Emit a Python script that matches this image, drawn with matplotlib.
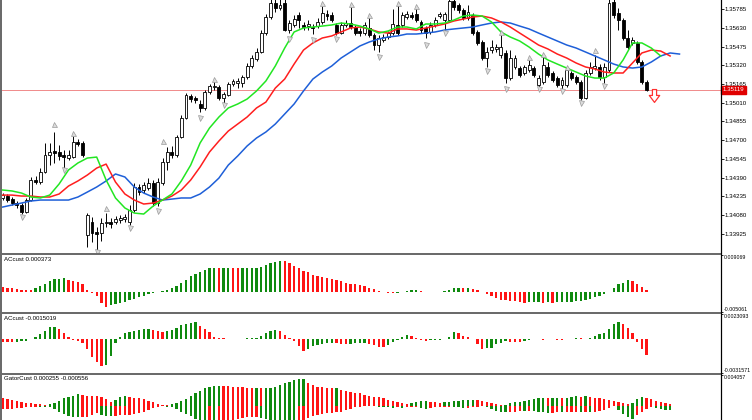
import numpy as np
import matplotlib.pyplot as plt
from matplotlib.patches import Rectangle
from matplotlib.lines import Line2D
from matplotlib.path import Path
from matplotlib.transforms import blended_transform_factory

plt.rcParams['font.family'] = ['Liberation Sans', 'DejaVu Sans']

# --- price bars (138 bars) ---
opens = [1.34221, 1.34237, 1.34212, 1.34179, 1.34163, 1.34105, 1.34204, 1.34370, 1.34353, 1.34436,
         1.34577, 1.34610, 1.34602, 1.34577, 1.34552, 1.34560, 1.34685, 1.34677, 1.33914, 1.34022,
         1.33939, 1.33930, 1.34013, 1.34022, 1.34022, 1.34038, 1.34046, 1.34022, 1.34121, 1.34312,
         1.34287, 1.34303, 1.34345, 1.34179, 1.34345, 1.34519, 1.34602, 1.34577, 1.34726, 1.34884,
         1.35066, 1.35050, 1.35000, 1.34967, 1.35099, 1.35141, 1.35141, 1.35050, 1.35074, 1.35166,
         1.35174, 1.35174, 1.35224, 1.35315, 1.35373, 1.35431, 1.35588, 1.35721, 1.35837, 1.35796,
         1.35837, 1.35613, 1.35655, 1.35738, 1.35655, 1.35646, 1.35638, 1.35646, 1.35680, 1.35746,
         1.35738, 1.35655, 1.35588, 1.35655, 1.35671, 1.35638, 1.35605, 1.35588, 1.35630, 1.35572,
         1.35489, 1.35530, 1.35555, 1.35588, 1.35655, 1.35655, 1.35721, 1.35738, 1.35746, 1.35680,
         1.35630, 1.35597, 1.35655, 1.35729, 1.35696, 1.35696, 1.35854, 1.35821, 1.35779, 1.35713,
         1.35738, 1.35597, 1.35514, 1.35381, 1.35447, 1.35456, 1.35406, 1.35423, 1.35215, 1.35307,
         1.35298, 1.35257, 1.35282, 1.35298, 1.35157, 1.35182, 1.35307, 1.35257, 1.35215, 1.35157,
         1.35157, 1.35257, 1.35224, 1.35182, 1.35050, 1.35257, 1.35298, 1.35307, 1.35224, 1.35282,
         1.35845, 1.35754, 1.35696, 1.35547, 1.35506, 1.35506, 1.35348, 1.35182]
highs = [1.34262, 1.34254, 1.34229, 1.34196, 1.34179, 1.34221, 1.34395, 1.34403, 1.34469, 1.34677,
         1.34677, 1.34768, 1.34660, 1.34618, 1.34618, 1.34735, 1.34710, 1.34693, 1.34096, 1.34063,
         1.33980, 1.34055, 1.34096, 1.34055, 1.34071, 1.34080, 1.34088, 1.34163, 1.34345, 1.34337,
         1.34353, 1.34386, 1.34370, 1.34386, 1.34552, 1.34643, 1.34652, 1.34743, 1.34909, 1.35091,
         1.35083, 1.35066, 1.35033, 1.35116, 1.35166, 1.35199, 1.35157, 1.35099, 1.35182, 1.35207,
         1.35215, 1.35240, 1.35340, 1.35406, 1.35464, 1.35613, 1.35746, 1.35870, 1.35870, 1.35870,
         1.35870, 1.35696, 1.35738, 1.35763, 1.35680, 1.35696, 1.35663, 1.35713, 1.35812, 1.35779,
         1.35763, 1.35671, 1.35680, 1.35696, 1.35804, 1.35655, 1.35630, 1.35680, 1.35721, 1.35588,
         1.35572, 1.35580, 1.35605, 1.35787, 1.35821, 1.35763, 1.35771, 1.35763, 1.35796, 1.35696,
         1.35646, 1.35680, 1.35721, 1.35763, 1.35763, 1.35870, 1.35870, 1.35837, 1.35796, 1.35821,
         1.35754, 1.35613, 1.35530, 1.35472, 1.35530, 1.35497, 1.35572, 1.35447, 1.35447, 1.35406,
         1.35315, 1.35323, 1.35365, 1.35315, 1.35240, 1.35389, 1.35348, 1.35273, 1.35232, 1.35224,
         1.35298, 1.35273, 1.35240, 1.35199, 1.35282, 1.35348, 1.35406, 1.35331, 1.35340, 1.35870,
         1.35870, 1.35796, 1.35713, 1.35613, 1.35555, 1.35522, 1.35365, 1.35199]
lows = [1.34204, 1.34187, 1.34163, 1.34138, 1.34088, 1.34096, 1.34196, 1.34337, 1.34337, 1.34428,
        1.34494, 1.34511, 1.34536, 1.34469, 1.34536, 1.34552, 1.34652, 1.34560, 1.33814, 1.33856,
        1.33789, 1.33864, 1.33980, 1.33972, 1.34005, 1.34013, 1.34022, 1.33997, 1.34105, 1.34245,
        1.34262, 1.34287, 1.34154, 1.34154, 1.34328, 1.34453, 1.34552, 1.34560, 1.34718, 1.34875,
        1.35016, 1.35008, 1.34934, 1.34950, 1.35083, 1.35116, 1.35033, 1.35008, 1.35066, 1.35149,
        1.35132, 1.35141, 1.35207, 1.35298, 1.35356, 1.35423, 1.35572, 1.35704, 1.35763, 1.35779,
        1.35605, 1.35588, 1.35638, 1.35630, 1.35613, 1.35613, 1.35580, 1.35630, 1.35663, 1.35696,
        1.35680, 1.35572, 1.35580, 1.35638, 1.35622, 1.35572, 1.35564, 1.35572, 1.35555, 1.35447,
        1.35431, 1.35514, 1.35539, 1.35572, 1.35572, 1.35638, 1.35704, 1.35704, 1.35680, 1.35588,
        1.35547, 1.35580, 1.35638, 1.35713, 1.35613, 1.35680, 1.35779, 1.35754, 1.35696, 1.35696,
        1.35572, 1.35489, 1.35365, 1.35307, 1.35423, 1.35431, 1.35381, 1.35174, 1.35199, 1.35290,
        1.35224, 1.35240, 1.35265, 1.35224, 1.35141, 1.35166, 1.35224, 1.35182, 1.35141, 1.35124,
        1.35141, 1.35199, 1.35166, 1.35033, 1.35041, 1.35240, 1.35282, 1.35199, 1.35174, 1.35265,
        1.35713, 1.35613, 1.35530, 1.35456, 1.35489, 1.35331, 1.35166, 1.35105]
closes = [1.34245, 1.34204, 1.34179, 1.34163, 1.34105, 1.34204, 1.34370, 1.34353, 1.34436, 1.34577,
          1.34602, 1.34594, 1.34569, 1.34560, 1.34577, 1.34685, 1.34668, 1.34577, 1.34080, 1.33930,
          1.33922, 1.34013, 1.34022, 1.34005, 1.34046, 1.34055, 1.34063, 1.34121, 1.34312, 1.34270,
          1.34328, 1.34345, 1.34179, 1.34353, 1.34519, 1.34602, 1.34577, 1.34726, 1.34884, 1.35074,
          1.35041, 1.35033, 1.34967, 1.35099, 1.35149, 1.35149, 1.35050, 1.35083, 1.35166, 1.35191,
          1.35191, 1.35224, 1.35315, 1.35381, 1.35431, 1.35588, 1.35721, 1.35837, 1.35796, 1.35821,
          1.35613, 1.35671, 1.35704, 1.35696, 1.35638, 1.35663, 1.35630, 1.35680, 1.35754, 1.35729,
          1.35696, 1.35588, 1.35655, 1.35671, 1.35638, 1.35588, 1.35588, 1.35655, 1.35572, 1.35489,
          1.35547, 1.35555, 1.35588, 1.35663, 1.35588, 1.35738, 1.35746, 1.35721, 1.35696, 1.35613,
          1.35588, 1.35655, 1.35696, 1.35746, 1.35746, 1.35854, 1.35804, 1.35779, 1.35713, 1.35763,
          1.35588, 1.35506, 1.35381, 1.35431, 1.35472, 1.35472, 1.35472, 1.35215, 1.35381, 1.35381,
          1.35240, 1.35307, 1.35323, 1.35240, 1.35215, 1.35323, 1.35240, 1.35199, 1.35157, 1.35199,
          1.35282, 1.35215, 1.35182, 1.35050, 1.35257, 1.35307, 1.35315, 1.35224, 1.35307, 1.35837,
          1.35738, 1.35696, 1.35547, 1.35472, 1.35530, 1.35348, 1.35182, 1.35119]
bid = 1.35119

# --- alligator lines, read every second bar ---
jaw = [1.34146, 1.34163, 1.34179, 1.34196, 1.34204, 1.34204, 1.34204, 1.34204, 1.34229, 1.34270,
       1.34312, 1.34362, 1.34420, 1.34395, 1.34312, 1.34262, 1.34229, 1.34204, 1.34212, 1.34221,
       1.34221, 1.34254, 1.34312, 1.34386, 1.34494, 1.34569, 1.34652, 1.34718, 1.34768, 1.34834,
       1.34917, 1.35000, 1.35108, 1.35207, 1.35265, 1.35315, 1.35381, 1.35431, 1.35481, 1.35514,
       1.35539, 1.35555, 1.35564, 1.35580, 1.35580, 1.35588, 1.35597, 1.35613, 1.35622, 1.35630,
       1.35638, 1.35655, 1.35671, 1.35680, 1.35671, 1.35646, 1.35622, 1.35588, 1.35555, 1.35522,
       1.35489, 1.35464, 1.35431, 1.35398, 1.35365, 1.35331, 1.35307, 1.35298, 1.35307, 1.35348,
       1.35398, 1.35423, 1.35414]
teeth = [1.34245, 1.34245, 1.34237, 1.34237, 1.34229, 1.34229, 1.34254, 1.34320, 1.34362, 1.34411,
         1.34469, 1.34502, 1.34353, 1.34254, 1.34204, 1.34171, 1.34179, 1.34204, 1.34237, 1.34287,
         1.34370, 1.34478, 1.34602, 1.34693, 1.34776, 1.34834, 1.34892, 1.34967, 1.35016, 1.35132,
         1.35207, 1.35331, 1.35447, 1.35506, 1.35547, 1.35564, 1.35597, 1.35630, 1.35638, 1.35622,
         1.35597, 1.35588, 1.35622, 1.35622, 1.35613, 1.35630, 1.35646, 1.35663, 1.35688, 1.35704,
         1.35721, 1.35729, 1.35713, 1.35680, 1.35638, 1.35588, 1.35539, 1.35489, 1.35456, 1.35414,
         1.35381, 1.35340, 1.35307, 1.35290, 1.35265, 1.35257, 1.35257, 1.35340, 1.35423, 1.35447,
         1.35439, 1.35398]
lips = [1.34287, 1.34279, 1.34262, 1.34229, 1.34221, 1.34245, 1.34337, 1.34453, 1.34511, 1.34552,
        1.34560, 1.34370, 1.34221, 1.34138, 1.34096, 1.34088, 1.34154, 1.34204, 1.34254, 1.34362,
        1.34494, 1.34677, 1.34801, 1.34892, 1.34967, 1.35000, 1.35041, 1.35108, 1.35191, 1.35315,
        1.35464, 1.35597, 1.35630, 1.35638, 1.35646, 1.35655, 1.35671, 1.35663, 1.35646, 1.35622,
        1.35588, 1.35605, 1.35638, 1.35638, 1.35622, 1.35663, 1.35663, 1.35671, 1.35696, 1.35729,
        1.35738, 1.35729, 1.35680, 1.35597, 1.35555, 1.35522, 1.35472, 1.35414, 1.35365, 1.35331,
        1.35298, 1.35265, 1.35232, 1.35215, 1.35215, 1.35257, 1.35365, 1.35506, 1.35506, 1.35464,
        1.35398]
jaw_idx = np.arange(0, 145, 2)
teeth_idx = np.arange(0, 143, 2)
lips_idx = np.arange(0, 141, 2)

# --- fractals and signal arrow ---
fr_up_idx = [11, 15, 22, 34, 45, 68, 74, 78, 84, 88, 106, 112, 115, 120, 126]
fr_up_px = [1.34834, 1.34759, 1.34138, 1.34693, 1.35207, 1.35837, 1.35829, 1.35738, 1.35837, 1.35812,
            1.35597, 1.35389, 1.35414, 1.35307, 1.35448]
fr_dn_idx = [4, 13, 20, 27, 33, 42, 47, 61, 66, 71, 80, 90, 94, 103, 107, 114, 119, 123, 128]
fr_dn_px = [1.34063, 1.34453, 1.33773, 1.33972, 1.34113, 1.34884, 1.34992, 1.35539, 1.35530, 1.35539,
            1.35389, 1.35489, 1.35588, 1.35273, 1.35124, 1.35124, 1.35108, 1.35008, 1.35149]
signal_idx, signal_px = 138.5, 1.35066

# --- oscillators (units of 1e-4) ---
ao_e4 = [10.4, 9.6, 8.0, 6.4, 4.8, 4.0, 3.2, 9.6, 13.6, 20.0,
         25.6, 30.4, 32.0, 32.8, 29.6, 27.2, 24.0, 20.0, 3.2, -2.4,
         -12.0, -28.0, -37.6, -33.6, -30.4, -27.2, -24.8, -21.6, -17.6, -14.4,
         -10.4, -6.4, -3.2, -0.8, 1.6, 4.8, 8.8, 14.4, 21.6, 29.6,
         37.6, 44.0, 49.6, 54.4, 57.6, 58.4, 57.6, 58.8, 59.2, 58.4,
         57.6, 58.4, 58.6, 58.9, 59.2, 61.6, 65.6, 70.4, 73.6, 76.8,
         76.0, 70.4, 64.0, 58.4, 52.0, 48.0, 41.6, 38.4, 35.2, 33.6,
         30.4, 28.0, 25.6, 22.4, 20.0, 17.6, 15.2, 13.6, 9.6, 5.6,
         1.6, -1.6, -4.0, -4.4, -2.4, -1.6, 2.4, 3.2, 3.6, 1.6,
         -0.8, -1.6, -1.8, -2.1, 0.8, 4.0, 8.0, 9.6, 9.2, 9.6,
         6.4, 4.0, -1.6, -6.4, -12.0, -16.0, -20.0, -21.6, -22.4, -24.0,
         -25.6, -27.2, -26.4, -25.6, -25.2, -27.2, -26.4, -27.2, -26.4, -26.0,
         -25.6, -24.8, -24.0, -22.4, -20.0, -17.6, -14.4, -10.4, -5.6, -1.6,
         8.0, 17.6, 22.4, 29.6, 26.4, 20.0, 10.4, 3.73]
ac_e4 = [-3.0, -3.15, -3.3, -2.7, -2.1, -1.5, -0.3, 1.5, 4.2, 7.8,
         10.8, 11.1, 9.3, 5.4, 1.8, -0.6, -2.1, -3.6, -9.6, -17.1,
         -21.6, -25.2, -24.6, -15.6, -3.6, 1.8, 5.4, 6.0, 6.9, 8.4,
         9.0, 9.3, 8.4, 6.9, 6.6, 6.9, 8.4, 9.9, 12.9, 13.8,
         15.0, 15.9, 12.0, 9.0, 6.0, 1.8, 0.9, 0.45, 0.15, 0.24,
         0.3, 0.36, 0.45, 0.6, 0.9, 2.4, 5.4, 7.5, 8.4, 7.5,
         3.9, 0.9, -2.1, -6.6, -11.1, -9.6, -6.6, -5.7, -5.1, -4.2,
         -3.6, -4.2, -4.5, -5.1, -4.5, -4.2, -3.6, -3.45, -4.5, -6.0,
         -7.2, -7.5, -6.0, -3.0, -1.2, 1.8, 3.9, 3.0, 0.9, -1.2,
         -2.1, -1.2, -1.05, -0.6, 0.15, 1.8, 6.0, 5.4, 3.0, 1.5,
         0.0, -5.1, -9.0, -8.7, -8.1, -5.1, -4.2, -2.1, -2.4, -2.7,
         -2.85, -1.8, -0.6, -0.3, -0.45, -0.6, -0.3, -0.45, -0.6, -0.75,
         -0.3, 0.3, 0.6, 0.45, 0.3, 1.2, 2.4, 4.2, 5.4, 9.0,
         13.5, 15.6, 13.5, 10.5, 5.4, -3.0, -9.6, -15.019]
gator_up_e4 = [10.0, 9.2, 7.8, 7.0, 5.7, 4.4, 3.5, 2.6, 2.2, 1.7,
               2.6, 4.4, 7.0, 10.0, 12.2, 13.5, 15.3, 14.0, 13.5, 13.1,
               12.6, 11.8, 9.6, 5.7, 7.8, 11.3, 13.1, 12.2, 10.9, 10.0,
               8.7, 7.0, 5.2, 3.1, 1.7, 1.3, 2.2, 3.9, 6.5, 9.6,
               13.1, 16.6, 20.1, 23.1, 25.3, 26.2, 26.6, 26.2, 25.7, 25.3,
               24.9, 24.4, 24.0, 23.8, 24.0, 23.1, 23.3, 24.0, 25.3, 27.0,
               29.6, 31.8, 34.0, 34.9, 35.1, 29.6, 27.5, 25.3, 24.9, 24.0,
               23.1, 23.5, 20.9, 20.1, 18.7, 17.4, 16.6, 14.4, 13.5, 12.2,
               11.3, 10.0, 7.8, 7.0, 5.7, 3.5, 2.6, 3.5, 5.7, 6.5,
               6.8, 5.7, 4.8, 4.4, 4.8, 5.7, 6.5, 7.0, 7.4, 7.8,
               8.3, 7.8, 7.0, 5.7, 4.4, 2.2, 0.9, 1.7, 3.5, 4.8,
               5.7, 7.0, 8.3, 9.2, 10.0, 10.5, 10.0, 10.5, 10.9, 10.7,
               10.9, 11.8, 12.6, 12.2, 12.6, 11.8, 10.9, 10.5, 9.6, 8.3,
               7.0, 5.2, 3.9, 3.1, 4.4, 8.7, 11.3, 10.5, 9.2, 7.0,
               4.8, 3.5, 2.55]
gator_dn_e4 = [-4.1, -3.7, -3.3, -2.8, -2.5, -1.7, -0.9, -0.7, -0.8, -1.1,
               -1.7, -4.4, -8.3, -10.9, -13.1, -14.4, -14.8, -14.4, -14.0, -11.3,
               -9.2, -11.3, -13.1, -13.5, -13.1, -12.2, -11.8, -11.3, -10.9, -9.6,
               -8.3, -5.2, -2.6, -1.3, -0.4, -0.9, -1.7, -4.4, -7.4, -10.0,
               -12.6, -16.6, -20.1, -20.5, -20.1, -20.3, -20.1, -19.6, -19.2, -17.9,
               -16.6, -15.7, -14.8, -14.4, -14.0, -15.7, -17.4, -17.9, -18.3, -21.8,
               -25.7, -26.2, -26.6, -22.7, -18.3, -15.7, -13.1, -11.3, -10.0, -9.6,
               -9.2, -8.3, -7.4, -5.2, -3.5, -1.7, -0.9, -0.4, -0.2, -0.4,
               -0.9, -1.3, -1.7, -2.0, -1.7, -2.0, -1.7, -1.3, -0.9, -2.2,
               -3.5, -2.6, -1.7, -1.3, -0.9, -0.7, -0.9, -1.7, -2.6, -2.2,
               -1.7, -0.9, -0.2, -1.7, -3.5, -6.1, -8.3, -8.5, -8.3, -7.4,
               -6.5, -6.8, -6.5, -7.0, -7.4, -8.3, -9.2, -8.7, -8.3, -8.5,
               -8.3, -7.8, -7.4, -7.6, -7.4, -7.6, -7.4, -6.1, -4.8, -2.2,
               -0.4, -5.2, -10.9, -14.0, -16.6, -12.2, -8.3, -4.4, -1.7, -3.1,
               -4.4, -5.0, -5.56]

price_ticks = np.round(np.arange(1.33925, 1.35790, 0.00155), 5)

GREEN, RED = '#0f8a0f', '#ff1414'
FS = 4.4
FS_SUB = 3.8

# --- layout in pixels of a 752x420 picture ---
W, H = 752, 420
def box(x0, y0, x1, y1):
    return [x0 / W, 1 - y1 / H, (x1 - x0) / W, (y1 - y0) / H]

fig = plt.figure(figsize=(7.52, 4.2), dpi=100)
ax = fig.add_axes(box(2, 0, 721, 253))
ax1 = fig.add_axes(box(2, 255, 721, 312), sharex=ax)
ax2 = fig.add_axes(box(2, 314, 721, 373), sharex=ax)
ax3 = fig.add_axes(box(2, 375, 721, 420), sharex=ax)

for a in (ax, ax1, ax2, ax3):
    for s in ('top', 'bottom', 'left'):
        a.spines[s].set_visible(False)
    a.spines['right'].set_linewidth(0.8)
    a.tick_params(axis='x', bottom=False, labelbottom=False)
    a.yaxis.tick_right()
    a.tick_params(axis='y', direction='out', length=2.0, width=0.6, pad=0.8, labelsize=FS)
for a in (ax1, ax2, ax3):
    a.tick_params(axis='y', length=1.5, pad=0.4, labelsize=FS_SUB)

# --- candles ---
o, hi, lo, c = map(np.array, (opens, highs, lows, closes))
idx = np.arange(len(o))
bull = c >= o
ax.vlines(idx, lo, hi, color='black', lw=0.7, zorder=3)
body_lo = np.minimum(o, c)
body_h = np.maximum(np.abs(c - o), 0.00002)
ax.bar(idx[bull], body_h[bull], 0.62, bottom=body_lo[bull], facecolor='white',
       edgecolor='black', lw=0.6, zorder=4)
ax.bar(idx[~bull], body_h[~bull], 0.62, bottom=body_lo[~bull], facecolor='black',
       edgecolor='black', lw=0.6, zorder=4)

ax.plot(jaw_idx, jaw, color='#1e5fd8', lw=1.1, zorder=5)
ax.plot(teeth_idx, teeth, color='#ff1e1e', lw=1.1, zorder=5)
ax.plot(lips_idx, lips, color='#22e622', lw=1.1, zorder=5)

ax.plot(fr_up_idx, fr_up_px, ls='none', marker='^', ms=3.6, mfc='#dcdcdc', mec='#9a9a9a', mew=0.5, zorder=6)
ax.plot(fr_dn_idx, fr_dn_px, ls='none', marker='v', ms=3.6, mfc='#dcdcdc', mec='#9a9a9a', mew=0.5, zorder=6)

arrow = Path([(-0.3, 1.0), (0.3, 1.0), (0.3, 0.15), (0.75, 0.15), (0.0, -0.85),
              (-0.75, 0.15), (-0.3, 0.15), (-0.3, 1.0)], closed=True)
ax.plot([signal_idx], [signal_px], ls='none', marker=arrow, ms=10, mfc='white',
        mec='#ff3030', mew=0.9, zorder=6)

ax.axhline(bid, color='#f08a8a', lw=0.7, zorder=2)
ax.set_xlim(-0.15, 152.83)
ax.set_ylim(1.33765, 1.35862)
ax.set_yticks(price_ticks, [f'{t:.5f}' for t in price_ticks])
tr = blended_transform_factory(ax.transAxes, ax.transData)
ax.text(1.0025, bid, f'{bid:.5f}', transform=tr, ha='left', va='center', fontsize=FS,
        color='white', zorder=10, clip_on=False,
        bbox=dict(boxstyle='square,pad=0.25', fc='#e00000', ec='#e00000'))

# --- oscillator panels ---
def hist_colors(v):
    v = np.asarray(v)
    return [RED if i == 0 or v[i] <= v[i - 1] else GREEN for i in range(len(v))]

ao = np.array(ao_e4) * 1e-4
ac = np.array(ac_e4) * 1e-4
ax1.bar(np.arange(len(ao)), ao, 0.5, color=hist_colors(ao), lw=0)
ax2.bar(np.arange(len(ac)), ac, 0.5, color=hist_colors(ac), lw=0)

gu = np.array(gator_up_e4) * 1e-4
gd = np.array(gator_dn_e4) * 1e-4
ax3.bar(np.arange(len(gu)), gu, 0.5, color=hist_colors(gu), lw=0)
ax3.bar(np.arange(len(gd)), gd, 0.5, color=hist_colors(np.abs(gd)), lw=0)

panels = [(ax1, -0.005061, 0.009069, ['-0.005061', '0.009069'], 'ACcust 0.000373'),
          (ax2, -0.0031571, 0.0023093, ['-0.0031571', '0.0023093'], 'ACcust -0.0015019'),
          (ax3, -0.001832, 0.004057, [None, '0.004057'], 'GatorCust 0.000255 -0.000556')]
for a, y0, y1, labs, title in panels:
    a.set_ylim(y0, y1)
    if labs[0] is None:
        a.set_yticks([y1], [labs[1]])
        a.get_yticklabels()[0].set_va('top')
    else:
        a.set_yticks([y0, y1], labs)
        tl = a.get_yticklabels()
        tl[0].set_va('bottom')
        tl[1].set_va('top')
    a.text(0.003, 0.92, title, transform=a.transAxes, fontsize=FS, va='center', ha='left')

# --- window frames ---
for y0 in (253, 312, 373):
    fig.add_artist(Rectangle((0, 1 - (y0 + 2) / H), 721 / W, 2 / H, transform=fig.transFigure,
                             facecolor='#6b6b6b', lw=0))
fig.add_artist(Rectangle((0, 0), 2 / W, 1, transform=fig.transFigure, facecolor='#6b6b6b', lw=0))
fig.add_artist(Line2D([721 / W, 721 / W], [0, 1], transform=fig.transFigure, color='black', lw=0.8))

fig.savefig('out.png', dpi=100)
